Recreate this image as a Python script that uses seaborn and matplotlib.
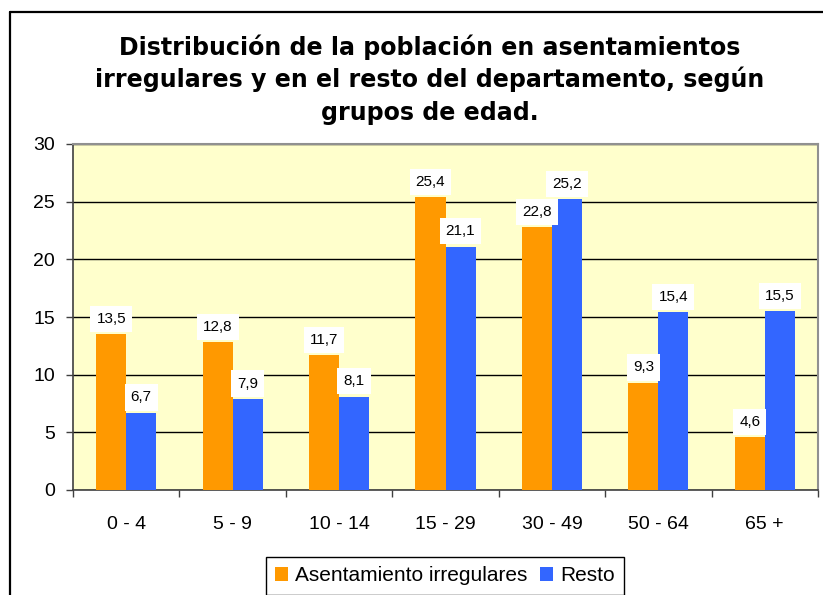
import matplotlib
matplotlib.use("Agg")
import matplotlib.pyplot as plt
from matplotlib import font_manager
import seaborn as sns
import pandas as pd
import numpy as np
from matplotlib.patches import Patch
from matplotlib.lines import Line2D

categories = ["0 - 4", "5 - 9", "10 - 14", "15 - 29", "30 - 49", "50 - 64", "65 +"]
asentamientos = [13.5, 12.8, 11.7, 25.4, 22.8, 9.3, 4.6]
resto = [6.7, 7.9, 8.1, 21.1, 25.2, 15.4, 15.5]
series_names = ["Asentamiento irregulares", "Resto"]
colors = {"Asentamiento irregulares": "#FF9900", "Resto": "#3366FF"}
title_lines = ["Distribución de la población en asentamientos",
               "irregulares y en el resto del departamento, según",
               "grupos de edad."]

df = pd.DataFrame({
    "grupo": categories * 2,
    "valor": asentamientos + resto,
    "serie": [series_names[0]] * len(categories) + [series_names[1]] * len(categories),
})

sns.set_theme(style="white")
plt.rcParams["font.family"] = ["Liberation Sans", "DejaVu Sans"]
plt.rcParams["text.color"] = "black"

installed = {f.name for f in font_manager.fontManager.ttflist}
if "Liberation Sans Narrow" in installed:
    label_family, label_size = "Liberation Sans Narrow", 12.5
else:
    label_family, label_size = "Liberation Sans", 11

fig = plt.figure(figsize=(8.23, 5.95), dpi=100)
W, H = 823, 595
ax = fig.add_axes([73 / W, 1 - 490 / H, (818 - 73) / W, (490 - 144) / H])
ax.set_facecolor("#FFFFCC")

sns.barplot(data=df, x="grupo", y="valor", hue="serie", order=categories,
            hue_order=series_names, palette=colors, saturation=1,
            width=0.564, gap=0, linewidth=0, ax=ax, zorder=3)

ax.set_ylim(0, 30)
ax.set_xlim(-0.5, len(categories) - 0.5)
ax.set_yticks([0, 5, 10, 15, 20, 25, 30])
ax.set_yticklabels(["0", "5", "10", "15", "20", "25", "30"])
ax.yaxis.grid(True, color="black", linewidth=1, zorder=1)
ax.set_axisbelow(True)
ax.set_xlabel("")
ax.set_ylabel("")

ax.set_xticks(np.arange(-0.5, len(categories), 1), minor=True)
ax.tick_params(axis="x", which="major", length=0, pad=19, labelsize=14, labelcolor="black")
ax.tick_params(axis="x", which="minor", length=5, width=1, direction="out", color="#404040", bottom=True)
ax.tick_params(axis="y", which="major", length=5, width=1, direction="out", pad=8,
               labelsize=14, color="#404040", labelcolor="black", left=True)

for side in ["top", "right"]:
    ax.spines[side].set_color("#909090")
    ax.spines[side].set_linewidth(1.5)
for side in ["left", "bottom"]:
    ax.spines[side].set_color("#404040")
    ax.spines[side].set_linewidth(1.2)

for cont in ax.containers:
    labels = [f"{b.get_height():.1f}".replace(".", ",") for b in cont]
    ax.bar_label(cont, labels=labels, padding=6, fontsize=label_size, color="black",
                 family=[label_family, "DejaVu Sans"],
                 bbox=dict(boxstyle="square,pad=0.4", facecolor="white", edgecolor="none"),
                 zorder=5)

if ax.get_legend() is not None:
    ax.get_legend().remove()

handles = [Patch(facecolor=colors[s], edgecolor="none") for s in series_names]
fig.legend(handles, series_names, loc="upper center",
           bbox_to_anchor=(445 / W, 1 - 557 / H), ncol=2, frameon=True,
           fontsize=15, handlelength=0.62, handleheight=0.62, handletextpad=0.34,
           columnspacing=0.62, borderpad=0.45, borderaxespad=0, fancybox=False,
           edgecolor="black", framealpha=1, labelcolor="black")
lg = fig.legends[0]
lg.get_frame().set_linewidth(1.0)

for i, line in enumerate(title_lines):
    fig.text(430 / W, 1 - (55 + 32.5 * i) / H, line, ha="center", va="baseline",
             fontsize=17.1, fontweight="bold", family=["DejaVu Sans"], color="black")

fig.add_artist(Line2D([10 / W, 10 / W], [0, 1 - 12 / H], transform=fig.transFigure,
                      color="black", linewidth=1.6))
fig.add_artist(Line2D([10 / W, 1], [1 - 12 / H, 1 - 12 / H], transform=fig.transFigure,
                      color="black", linewidth=1.6))

fig.savefig("out.png", dpi=100)
